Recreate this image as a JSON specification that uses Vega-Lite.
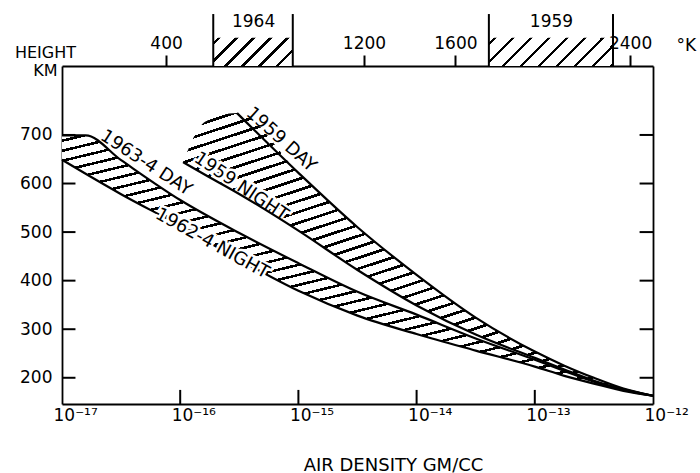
{
  "$schema": "https://vega.github.io/schema/vega-lite/v6.json",
  "width": 591,
  "height": 338,
  "autosize": {"type": "none"},
  "padding": {"left": 62, "top": 66, "right": 47, "bottom": 69},
  "background": "white",
  "config": {
    "view": {"stroke": null},
    "font": "DejaVu Sans",
    "axis": {"domainColor": "black", "domainWidth": 1.8, "tickColor": "black", "tickWidth": 2, "labelColor": "black", "titleColor": "black", "labelFont": "DejaVu Sans", "titleFont": "DejaVu Sans", "titleFontWeight": "normal", "labelFontSize": 17, "titleFontSize": 16, "grid": false}
  },
  "datasets": {
    "leftband": [
      {"d": 1e-17, "lo": 649, "hi": 699},
      {"d": 1.585e-17, "lo": 620, "hi": 699},
      {"d": 3.162e-17, "lo": 578, "hi": 648},
      {"d": 1e-16, "lo": 513, "hi": 566},
      {"d": 3.162e-16, "lo": 443, "hi": 498},
      {"d": 1e-15, "lo": 379, "hi": 436},
      {"d": 3.162e-15, "lo": 328, "hi": 377},
      {"d": 1e-14, "lo": 290, "hi": 330},
      {"d": 3.162e-14, "lo": 256, "hi": 281},
      {"d": 1e-13, "lo": 223, "hi": 237},
      {"d": 1.778e-13, "lo": 204, "hi": 214},
      {"d": 3.162e-13, "lo": 188, "hi": 192},
      {"d": 5.623e-13, "lo": 173, "hi": 175},
      {"d": 1e-12, "lo": 163, "hi": 163}
    ],
    "band59": [
      {"d": 1.057e-16, "lo": 644, "hi": 644},
      {"d": 1.622e-16, "lo": 618, "hi": 727},
      {"d": 3.027e-16, "lo": 581, "hi": 745},
      {"d": 1e-15, "lo": 503, "hi": 622},
      {"d": 3.162e-15, "lo": 422, "hi": 510},
      {"d": 1e-14, "lo": 349, "hi": 412},
      {"d": 3.162e-14, "lo": 289, "hi": 324},
      {"d": 1e-13, "lo": 241, "hi": 254},
      {"d": 1.778e-13, "lo": 217, "hi": 225},
      {"d": 3.162e-13, "lo": 194, "hi": 200},
      {"d": 5.623e-13, "lo": 176, "hi": 178},
      {"d": 1e-12, "lo": 163, "hi": 163}
    ],
    "boxes": [
      {"year": "1964", "lo": 580, "hi": 900},
      {"year": "1959", "lo": 1750, "hi": 2320}
    ],
    "heightticks": [{"h": 200}, {"h": 300}, {"h": 400}, {"h": 500}, {"h": 600}, {"h": 700}],
    "densityticks": [{"d": 1e-16}, {"d": 1e-15}, {"d": 1e-14}, {"d": 1e-13}]
  },
  "resolve": {"scale": {"x": "independent", "y": "independent"}},
  "layer": [
    {
      "layer": [
        {
          "data": {"name": "leftband"},
          "mark": {"type": "area", "interpolate": "monotone", "fill": {"gradient": "linear", "x1": 0, "y1": 0, "x2": 0.65, "y2": 1.19, "stops": [
            {"offset":0,"color":"#fff"},
            {"offset":0.01,"color":"#fff"},{"offset":0.01,"color":"#000"},{"offset":0.0165,"color":"#000"},{"offset":0.0165,"color":"#fff"},
            {"offset":0.035,"color":"#fff"},{"offset":0.035,"color":"#000"},{"offset":0.0415,"color":"#000"},{"offset":0.0415,"color":"#fff"},
            {"offset":0.06,"color":"#fff"},{"offset":0.06,"color":"#000"},{"offset":0.0665,"color":"#000"},{"offset":0.0665,"color":"#fff"},
            {"offset":0.085,"color":"#fff"},{"offset":0.085,"color":"#000"},{"offset":0.0915,"color":"#000"},{"offset":0.0915,"color":"#fff"},
            {"offset":0.11,"color":"#fff"},{"offset":0.11,"color":"#000"},{"offset":0.1165,"color":"#000"},{"offset":0.1165,"color":"#fff"},
            {"offset":0.135,"color":"#fff"},{"offset":0.135,"color":"#000"},{"offset":0.1415,"color":"#000"},{"offset":0.1415,"color":"#fff"},
            {"offset":0.16,"color":"#fff"},{"offset":0.16,"color":"#000"},{"offset":0.1665,"color":"#000"},{"offset":0.1665,"color":"#fff"},
            {"offset":0.185,"color":"#fff"},{"offset":0.185,"color":"#000"},{"offset":0.1915,"color":"#000"},{"offset":0.1915,"color":"#fff"},
            {"offset":0.21,"color":"#fff"},{"offset":0.21,"color":"#000"},{"offset":0.2165,"color":"#000"},{"offset":0.2165,"color":"#fff"},
            {"offset":0.235,"color":"#fff"},{"offset":0.235,"color":"#000"},{"offset":0.2415,"color":"#000"},{"offset":0.2415,"color":"#fff"},
            {"offset":0.26,"color":"#fff"},{"offset":0.26,"color":"#000"},{"offset":0.2665,"color":"#000"},{"offset":0.2665,"color":"#fff"},
            {"offset":0.285,"color":"#fff"},{"offset":0.285,"color":"#000"},{"offset":0.2915,"color":"#000"},{"offset":0.2915,"color":"#fff"},
            {"offset":0.31,"color":"#fff"},{"offset":0.31,"color":"#000"},{"offset":0.3165,"color":"#000"},{"offset":0.3165,"color":"#fff"},
            {"offset":0.335,"color":"#fff"},{"offset":0.335,"color":"#000"},{"offset":0.3415,"color":"#000"},{"offset":0.3415,"color":"#fff"},
            {"offset":0.36,"color":"#fff"},{"offset":0.36,"color":"#000"},{"offset":0.3665,"color":"#000"},{"offset":0.3665,"color":"#fff"},
            {"offset":0.385,"color":"#fff"},{"offset":0.385,"color":"#000"},{"offset":0.3915,"color":"#000"},{"offset":0.3915,"color":"#fff"},
            {"offset":0.41,"color":"#fff"},{"offset":0.41,"color":"#000"},{"offset":0.4165,"color":"#000"},{"offset":0.4165,"color":"#fff"},
            {"offset":0.435,"color":"#fff"},{"offset":0.435,"color":"#000"},{"offset":0.4415,"color":"#000"},{"offset":0.4415,"color":"#fff"},
            {"offset":0.46,"color":"#fff"},{"offset":0.46,"color":"#000"},{"offset":0.4665,"color":"#000"},{"offset":0.4665,"color":"#fff"},
            {"offset":0.485,"color":"#fff"},{"offset":0.485,"color":"#000"},{"offset":0.4915,"color":"#000"},{"offset":0.4915,"color":"#fff"},
            {"offset":0.51,"color":"#fff"},{"offset":0.51,"color":"#000"},{"offset":0.5165,"color":"#000"},{"offset":0.5165,"color":"#fff"},
            {"offset":0.535,"color":"#fff"},{"offset":0.535,"color":"#000"},{"offset":0.5415,"color":"#000"},{"offset":0.5415,"color":"#fff"},
            {"offset":0.56,"color":"#fff"},{"offset":0.56,"color":"#000"},{"offset":0.5665,"color":"#000"},{"offset":0.5665,"color":"#fff"},
            {"offset":0.585,"color":"#fff"},{"offset":0.585,"color":"#000"},{"offset":0.5915,"color":"#000"},{"offset":0.5915,"color":"#fff"},
            {"offset":0.61,"color":"#fff"},{"offset":0.61,"color":"#000"},{"offset":0.6165,"color":"#000"},{"offset":0.6165,"color":"#fff"},
            {"offset":0.635,"color":"#fff"},{"offset":0.635,"color":"#000"},{"offset":0.6415,"color":"#000"},{"offset":0.6415,"color":"#fff"},
            {"offset":0.66,"color":"#fff"},{"offset":0.66,"color":"#000"},{"offset":0.6665,"color":"#000"},{"offset":0.6665,"color":"#fff"},
            {"offset":0.685,"color":"#fff"},{"offset":0.685,"color":"#000"},{"offset":0.6915,"color":"#000"},{"offset":0.6915,"color":"#fff"},
            {"offset":0.71,"color":"#fff"},{"offset":0.71,"color":"#000"},{"offset":0.7165,"color":"#000"},{"offset":0.7165,"color":"#fff"},
            {"offset":0.735,"color":"#fff"},{"offset":0.735,"color":"#000"},{"offset":0.7415,"color":"#000"},{"offset":0.7415,"color":"#fff"},
            {"offset":0.76,"color":"#fff"},{"offset":0.76,"color":"#000"},{"offset":0.7665,"color":"#000"},{"offset":0.7665,"color":"#fff"},
            {"offset":0.785,"color":"#fff"},{"offset":0.785,"color":"#000"},{"offset":0.7915,"color":"#000"},{"offset":0.7915,"color":"#fff"},
            {"offset":0.81,"color":"#fff"},{"offset":0.81,"color":"#000"},{"offset":0.8165,"color":"#000"},{"offset":0.8165,"color":"#fff"},
            {"offset":0.835,"color":"#fff"},{"offset":0.835,"color":"#000"},{"offset":0.8415,"color":"#000"},{"offset":0.8415,"color":"#fff"},
            {"offset":0.86,"color":"#fff"},{"offset":0.86,"color":"#000"},{"offset":0.8665,"color":"#000"},{"offset":0.8665,"color":"#fff"},
            {"offset":0.885,"color":"#fff"},{"offset":0.885,"color":"#000"},{"offset":0.8915,"color":"#000"},{"offset":0.8915,"color":"#fff"},
            {"offset":0.91,"color":"#fff"},{"offset":0.91,"color":"#000"},{"offset":0.9165,"color":"#000"},{"offset":0.9165,"color":"#fff"},
            {"offset":0.935,"color":"#fff"},{"offset":0.935,"color":"#000"},{"offset":0.9415,"color":"#000"},{"offset":0.9415,"color":"#fff"},
            {"offset":0.96,"color":"#fff"},{"offset":0.96,"color":"#000"},{"offset":0.9665,"color":"#000"},{"offset":0.9665,"color":"#fff"},
            {"offset":0.985,"color":"#fff"},{"offset":0.985,"color":"#000"},{"offset":0.9915,"color":"#000"},{"offset":0.9915,"color":"#fff"},
            {"offset":1,"color":"#fff"}]}},
          "encoding": {
            "x": {"field": "d", "type": "quantitative",
              "scale": {"type": "log", "domain": [1e-17, 1e-12], "nice": false},
              "axis": {"orient": "bottom", "values": [1e-17, 1e-16, 1e-15, 1e-14, 1e-13, 1e-12],
                "labelExpr": "datum.value < 5e-17 ? '10⁻¹⁷' : datum.value < 5e-16 ? '10⁻¹⁶' : datum.value < 5e-15 ? '10⁻¹⁵' : datum.value < 5e-14 ? '10⁻¹⁴' : datum.value < 5e-13 ? '10⁻¹³' : '10⁻¹²'",
                "ticks": false, "labelPadding": 3, "labelAlign": "left", "labelOffset": -9, "labelFlush": false, "labelOverlap": false,
                "title": "AIR DENSITY  GM/CC", "titleX": 331, "titleY": 66, "titleAlign": "center", "titleBaseline": "alphabetic", "titleFontSize": 18}},
            "y": {"field": "lo", "type": "quantitative",
              "scale": {"domain": [146, 842], "nice": false, "zero": false},
              "axis": {"orient": "left", "values": [200, 300, 400, 500, 600, 700],
                "ticks": false, "labelPadding": 10,
                "title": ["HEIGHT", "KM"], "titleAngle": 0, "titleX": -17, "titleY": -9, "titleAlign": "center", "titleBaseline": "alphabetic", "titleLineHeight": 18, "titleFontSize": 16}},
            "y2": {"field": "hi"}
          }
        },
        {
          "data": {"name": "band59"},
          "mark": {"type": "area", "interpolate": "monotone", "fill": {"gradient": "linear", "x1": 0, "y1": 0, "x2": 0.65, "y2": 1.19, "stops": [
            {"offset":0,"color":"#fff"},
            {"offset":0.01,"color":"#fff"},{"offset":0.01,"color":"#000"},{"offset":0.0165,"color":"#000"},{"offset":0.0165,"color":"#fff"},
            {"offset":0.035,"color":"#fff"},{"offset":0.035,"color":"#000"},{"offset":0.0415,"color":"#000"},{"offset":0.0415,"color":"#fff"},
            {"offset":0.06,"color":"#fff"},{"offset":0.06,"color":"#000"},{"offset":0.0665,"color":"#000"},{"offset":0.0665,"color":"#fff"},
            {"offset":0.085,"color":"#fff"},{"offset":0.085,"color":"#000"},{"offset":0.0915,"color":"#000"},{"offset":0.0915,"color":"#fff"},
            {"offset":0.11,"color":"#fff"},{"offset":0.11,"color":"#000"},{"offset":0.1165,"color":"#000"},{"offset":0.1165,"color":"#fff"},
            {"offset":0.135,"color":"#fff"},{"offset":0.135,"color":"#000"},{"offset":0.1415,"color":"#000"},{"offset":0.1415,"color":"#fff"},
            {"offset":0.16,"color":"#fff"},{"offset":0.16,"color":"#000"},{"offset":0.1665,"color":"#000"},{"offset":0.1665,"color":"#fff"},
            {"offset":0.185,"color":"#fff"},{"offset":0.185,"color":"#000"},{"offset":0.1915,"color":"#000"},{"offset":0.1915,"color":"#fff"},
            {"offset":0.21,"color":"#fff"},{"offset":0.21,"color":"#000"},{"offset":0.2165,"color":"#000"},{"offset":0.2165,"color":"#fff"},
            {"offset":0.235,"color":"#fff"},{"offset":0.235,"color":"#000"},{"offset":0.2415,"color":"#000"},{"offset":0.2415,"color":"#fff"},
            {"offset":0.26,"color":"#fff"},{"offset":0.26,"color":"#000"},{"offset":0.2665,"color":"#000"},{"offset":0.2665,"color":"#fff"},
            {"offset":0.285,"color":"#fff"},{"offset":0.285,"color":"#000"},{"offset":0.2915,"color":"#000"},{"offset":0.2915,"color":"#fff"},
            {"offset":0.31,"color":"#fff"},{"offset":0.31,"color":"#000"},{"offset":0.3165,"color":"#000"},{"offset":0.3165,"color":"#fff"},
            {"offset":0.335,"color":"#fff"},{"offset":0.335,"color":"#000"},{"offset":0.3415,"color":"#000"},{"offset":0.3415,"color":"#fff"},
            {"offset":0.36,"color":"#fff"},{"offset":0.36,"color":"#000"},{"offset":0.3665,"color":"#000"},{"offset":0.3665,"color":"#fff"},
            {"offset":0.385,"color":"#fff"},{"offset":0.385,"color":"#000"},{"offset":0.3915,"color":"#000"},{"offset":0.3915,"color":"#fff"},
            {"offset":0.41,"color":"#fff"},{"offset":0.41,"color":"#000"},{"offset":0.4165,"color":"#000"},{"offset":0.4165,"color":"#fff"},
            {"offset":0.435,"color":"#fff"},{"offset":0.435,"color":"#000"},{"offset":0.4415,"color":"#000"},{"offset":0.4415,"color":"#fff"},
            {"offset":0.46,"color":"#fff"},{"offset":0.46,"color":"#000"},{"offset":0.4665,"color":"#000"},{"offset":0.4665,"color":"#fff"},
            {"offset":0.485,"color":"#fff"},{"offset":0.485,"color":"#000"},{"offset":0.4915,"color":"#000"},{"offset":0.4915,"color":"#fff"},
            {"offset":0.51,"color":"#fff"},{"offset":0.51,"color":"#000"},{"offset":0.5165,"color":"#000"},{"offset":0.5165,"color":"#fff"},
            {"offset":0.535,"color":"#fff"},{"offset":0.535,"color":"#000"},{"offset":0.5415,"color":"#000"},{"offset":0.5415,"color":"#fff"},
            {"offset":0.56,"color":"#fff"},{"offset":0.56,"color":"#000"},{"offset":0.5665,"color":"#000"},{"offset":0.5665,"color":"#fff"},
            {"offset":0.585,"color":"#fff"},{"offset":0.585,"color":"#000"},{"offset":0.5915,"color":"#000"},{"offset":0.5915,"color":"#fff"},
            {"offset":0.61,"color":"#fff"},{"offset":0.61,"color":"#000"},{"offset":0.6165,"color":"#000"},{"offset":0.6165,"color":"#fff"},
            {"offset":0.635,"color":"#fff"},{"offset":0.635,"color":"#000"},{"offset":0.6415,"color":"#000"},{"offset":0.6415,"color":"#fff"},
            {"offset":0.66,"color":"#fff"},{"offset":0.66,"color":"#000"},{"offset":0.6665,"color":"#000"},{"offset":0.6665,"color":"#fff"},
            {"offset":0.685,"color":"#fff"},{"offset":0.685,"color":"#000"},{"offset":0.6915,"color":"#000"},{"offset":0.6915,"color":"#fff"},
            {"offset":0.71,"color":"#fff"},{"offset":0.71,"color":"#000"},{"offset":0.7165,"color":"#000"},{"offset":0.7165,"color":"#fff"},
            {"offset":0.735,"color":"#fff"},{"offset":0.735,"color":"#000"},{"offset":0.7415,"color":"#000"},{"offset":0.7415,"color":"#fff"},
            {"offset":0.76,"color":"#fff"},{"offset":0.76,"color":"#000"},{"offset":0.7665,"color":"#000"},{"offset":0.7665,"color":"#fff"},
            {"offset":0.785,"color":"#fff"},{"offset":0.785,"color":"#000"},{"offset":0.7915,"color":"#000"},{"offset":0.7915,"color":"#fff"},
            {"offset":0.81,"color":"#fff"},{"offset":0.81,"color":"#000"},{"offset":0.8165,"color":"#000"},{"offset":0.8165,"color":"#fff"},
            {"offset":0.835,"color":"#fff"},{"offset":0.835,"color":"#000"},{"offset":0.8415,"color":"#000"},{"offset":0.8415,"color":"#fff"},
            {"offset":0.86,"color":"#fff"},{"offset":0.86,"color":"#000"},{"offset":0.8665,"color":"#000"},{"offset":0.8665,"color":"#fff"},
            {"offset":0.885,"color":"#fff"},{"offset":0.885,"color":"#000"},{"offset":0.8915,"color":"#000"},{"offset":0.8915,"color":"#fff"},
            {"offset":0.91,"color":"#fff"},{"offset":0.91,"color":"#000"},{"offset":0.9165,"color":"#000"},{"offset":0.9165,"color":"#fff"},
            {"offset":0.935,"color":"#fff"},{"offset":0.935,"color":"#000"},{"offset":0.9415,"color":"#000"},{"offset":0.9415,"color":"#fff"},
            {"offset":0.96,"color":"#fff"},{"offset":0.96,"color":"#000"},{"offset":0.9665,"color":"#000"},{"offset":0.9665,"color":"#fff"},
            {"offset":0.985,"color":"#fff"},{"offset":0.985,"color":"#000"},{"offset":0.9915,"color":"#000"},{"offset":0.9915,"color":"#fff"},
            {"offset":1,"color":"#fff"}]}},
          "encoding": {
            "x": {"field": "d", "type": "quantitative"},
            "y": {"field": "lo", "type": "quantitative"},
            "y2": {"field": "hi"}
          }
        },
        {
          "data": {"values": [{}]},
          "mark": {"type": "text", "text": "1959 NIGHT", "angle": 34, "fontSize": 18, "align": "center", "baseline": "middle", "fill": "white", "stroke": "white", "strokeWidth": 5},
          "encoding": {"x": {"datum": 3.266e-16, "type": "quantitative"}, "y": {"datum": 593, "type": "quantitative"}}
        },
        {
          "data": {"name": "leftband"},
          "mark": {"type": "line", "interpolate": "monotone", "color": "black", "strokeWidth": 2.2},
          "encoding": {"x": {"field": "d", "type": "quantitative"}, "y": {"field": "lo", "type": "quantitative"}}
        },
        {
          "data": {"name": "leftband"},
          "mark": {"type": "line", "interpolate": "monotone", "color": "black", "strokeWidth": 2.2},
          "encoding": {"x": {"field": "d", "type": "quantitative"}, "y": {"field": "hi", "type": "quantitative"}}
        },
        {
          "data": {"name": "band59"},
          "mark": {"type": "line", "interpolate": "monotone", "color": "black", "strokeWidth": 2.2},
          "encoding": {"x": {"field": "d", "type": "quantitative"}, "y": {"field": "lo", "type": "quantitative"}}
        },
        {
          "data": {"name": "band59"},
          "transform": [{"filter": "datum.d > 2.9e-16"}],
          "mark": {"type": "line", "interpolate": "monotone", "color": "black", "strokeWidth": 2.2},
          "encoding": {"x": {"field": "d", "type": "quantitative"}, "y": {"field": "hi", "type": "quantitative"}}
        },
        {
          "data": {"name": "heightticks"},
          "mark": {"type": "rule", "color": "black", "strokeWidth": 2},
          "encoding": {"y": {"field": "h", "type": "quantitative"}, "x": {"datum": 1e-17, "type": "quantitative"}, "x2": {"datum": 1.3e-17}}
        },
        {
          "data": {"name": "heightticks"},
          "mark": {"type": "rule", "color": "black", "strokeWidth": 2},
          "encoding": {"y": {"field": "h", "type": "quantitative"}, "x": {"datum": 7.7e-13, "type": "quantitative"}, "x2": {"datum": 1e-12}}
        },
        {
          "data": {"name": "densityticks"},
          "mark": {"type": "rule", "color": "black", "strokeWidth": 2},
          "encoding": {"x": {"field": "d", "type": "quantitative"}, "y": {"datum": 146, "type": "quantitative"}, "y2": {"datum": 175}}
        },
        {
          "data": {"values": [{}]},
          "mark": {"type": "text", "text": "1962-4 NIGHT", "angle": 29, "fontSize": 18, "align": "center", "baseline": "middle", "fill": "white", "stroke": "white", "strokeWidth": 5},
          "encoding": {"x": {"datum": 1.858e-16, "type": "quantitative"}, "y": {"datum": 476, "type": "quantitative"}}
        },
        {
          "data": {"values": [{}]},
          "mark": {"type": "text", "text": "1962-4 NIGHT", "angle": 29, "fontSize": 18, "align": "center", "baseline": "middle", "color": "black"},
          "encoding": {"x": {"datum": 1.858e-16, "type": "quantitative"}, "y": {"datum": 476, "type": "quantitative"}}
        },
        {
          "data": {"values": [{}]},
          "mark": {"type": "text", "text": "1959 NIGHT", "angle": 34, "fontSize": 18, "align": "center", "baseline": "middle", "color": "black"},
          "encoding": {"x": {"datum": 3.266e-16, "type": "quantitative"}, "y": {"datum": 593, "type": "quantitative"}}
        },
        {
          "data": {"values": [{}]},
          "mark": {"type": "text", "text": "1963-4 DAY", "angle": 33, "fontSize": 18, "align": "center", "baseline": "middle", "color": "black"},
          "encoding": {"x": {"datum": 5.14e-17, "type": "quantitative"}, "y": {"datum": 642, "type": "quantitative"}}
        },
        {
          "data": {"values": [{}]},
          "mark": {"type": "text", "text": "1959 DAY", "angle": 42, "fontSize": 18, "align": "center", "baseline": "middle", "color": "black"},
          "encoding": {"x": {"datum": 7.13e-16, "type": "quantitative"}, "y": {"datum": 690, "type": "quantitative"}}
        }
      ]
    },
    {
      "layer": [
        {
          "data": {"name": "boxes"},
          "transform": [{"filter": "datum.year == '1964'"}],
          "mark": {"type": "rect", "fill": {"gradient": "linear", "x1": 0, "y1": 0, "x2": 1.2037, "y2": 0.4268, "stops": [
            {"offset":0,"color":"#fff"},
            {"offset":0.04,"color":"#fff"},{"offset":0.04,"color":"#000"},{"offset":0.073,"color":"#000"},{"offset":0.073,"color":"#fff"},
            {"offset":0.199,"color":"#fff"},{"offset":0.199,"color":"#000"},{"offset":0.232,"color":"#000"},{"offset":0.232,"color":"#fff"},
            {"offset":0.358,"color":"#fff"},{"offset":0.358,"color":"#000"},{"offset":0.391,"color":"#000"},{"offset":0.391,"color":"#fff"},
            {"offset":0.517,"color":"#fff"},{"offset":0.517,"color":"#000"},{"offset":0.55,"color":"#000"},{"offset":0.55,"color":"#fff"},
            {"offset":0.676,"color":"#fff"},{"offset":0.676,"color":"#000"},{"offset":0.709,"color":"#000"},{"offset":0.709,"color":"#fff"},
            {"offset":0.835,"color":"#fff"},{"offset":0.835,"color":"#000"},{"offset":0.868,"color":"#000"},{"offset":0.868,"color":"#fff"},
            {"offset":1,"color":"#fff"}]}},
          "encoding": {
            "x": {"field": "lo", "type": "quantitative",
              "scale": {"type": "pow", "exponent": 0.87, "domain": [48, 2508], "nice": false, "zero": false},
              "axis": {"orient": "top", "values": [400, 1200, 1600, 2400], "format": "d", "ticks": true, "tickSize": 11, "labelPadding": 3, "labelFlush": false, "labelOverlap": false,
                "title": "°K", "titleX": 614, "titleY": -16, "titleAlign": "left", "titleBaseline": "alphabetic", "titleFontSize": 17}},
            "x2": {"field": "hi"},
            "y": {"datum": 900, "type": "quantitative",
              "scale": {"domain": [146, 842], "nice": false, "zero": false},
              "axis": {"orient": "right", "values": [200, 300, 400, 500, 600, 700], "ticks": false, "labels": false, "title": null}},
            "y2": {"datum": 842}
          }
        },
        {
          "data": {"name": "boxes"},
          "transform": [{"filter": "datum.year == '1959'"}],
          "mark": {"type": "rect", "fill": {"gradient": "linear", "x1": 0, "y1": 0, "x2": 1.1665, "y2": 0.2633, "stops": [
            {"offset":0,"color":"#fff"},
            {"offset":0.03,"color":"#fff"},{"offset":0.03,"color":"#000"},{"offset":0.053,"color":"#000"},{"offset":0.053,"color":"#fff"},
            {"offset":0.148,"color":"#fff"},{"offset":0.148,"color":"#000"},{"offset":0.171,"color":"#000"},{"offset":0.171,"color":"#fff"},
            {"offset":0.266,"color":"#fff"},{"offset":0.266,"color":"#000"},{"offset":0.289,"color":"#000"},{"offset":0.289,"color":"#fff"},
            {"offset":0.384,"color":"#fff"},{"offset":0.384,"color":"#000"},{"offset":0.407,"color":"#000"},{"offset":0.407,"color":"#fff"},
            {"offset":0.502,"color":"#fff"},{"offset":0.502,"color":"#000"},{"offset":0.525,"color":"#000"},{"offset":0.525,"color":"#fff"},
            {"offset":0.62,"color":"#fff"},{"offset":0.62,"color":"#000"},{"offset":0.643,"color":"#000"},{"offset":0.643,"color":"#fff"},
            {"offset":0.738,"color":"#fff"},{"offset":0.738,"color":"#000"},{"offset":0.761,"color":"#000"},{"offset":0.761,"color":"#fff"},
            {"offset":0.856,"color":"#fff"},{"offset":0.856,"color":"#000"},{"offset":0.879,"color":"#000"},{"offset":0.879,"color":"#fff"},
            {"offset":0.974,"color":"#fff"},{"offset":0.974,"color":"#000"},{"offset":0.997,"color":"#000"},{"offset":0.997,"color":"#fff"},
            {"offset":1,"color":"#fff"}]}},
          "encoding": {
            "x": {"field": "lo", "type": "quantitative"},
            "x2": {"field": "hi"},
            "y": {"datum": 900, "type": "quantitative"},
            "y2": {"datum": 842}
          }
        },
        {
          "data": {"name": "boxes"},
          "mark": {"type": "rule", "color": "black", "strokeWidth": 2},
          "encoding": {
            "x": {"field": "lo", "type": "quantitative"},
            "y": {"datum": 842, "type": "quantitative"},
            "y2": {"datum": 949}
          }
        },
        {
          "data": {"name": "boxes"},
          "mark": {"type": "rule", "color": "black", "strokeWidth": 2},
          "encoding": {
            "x": {"field": "hi", "type": "quantitative"},
            "y": {"datum": 842, "type": "quantitative"},
            "y2": {"datum": 949}
          }
        },
        {
          "data": {"name": "boxes"},
          "transform": [{"calculate": "(datum.lo + datum.hi) / 2", "as": "mid"}],
          "mark": {"type": "text", "fontSize": 17, "align": "center", "baseline": "middle", "color": "black"},
          "encoding": {
            "x": {"field": "mid", "type": "quantitative"},
            "y": {"datum": 933, "type": "quantitative"},
            "text": {"field": "year"}
          }
        }
      ]
    }
  ]
}
